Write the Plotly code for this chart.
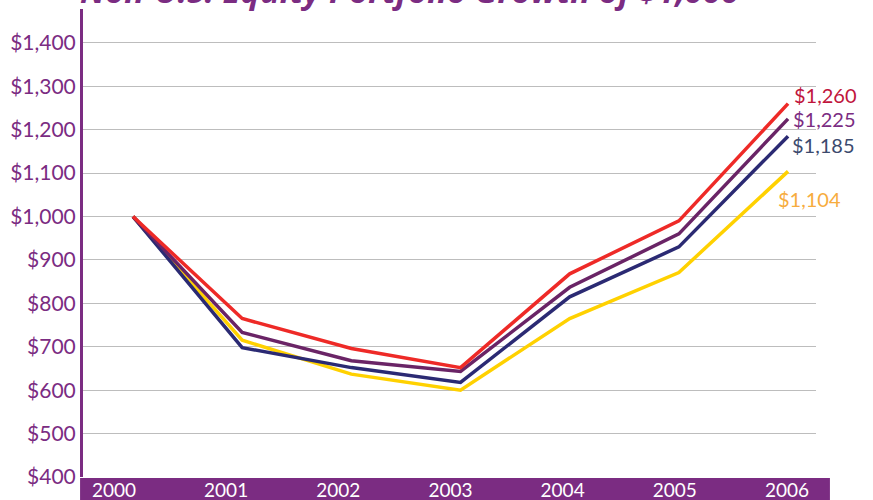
import plotly.graph_objects as go

years = [2000, 2001, 2002, 2003, 2004, 2005, 2006]
year_labels = ["2000", "2001", "2002", "2003", "2004", "2005", "2006"]

series_names = ["Red", "Purple", "Navy", "Yellow"]
red_values = [1000, 765, 696, 652, 868, 990, 1260]
purple_values = [1000, 733, 668, 643, 837, 960, 1225]
navy_values = [1000, 698, 652, 618, 815, 930, 1185]
yellow_values = [1000, 715, 637, 600, 765, 871, 1104]

end_labels = ["$1,260", "$1,225", "$1,185", "$1,104"]

PURPLE = "#7B2C82"
line_colors = ["#EE2A27", "#6A2466", "#2B2A73", "#FFD100"]
label_colors = ["#C0143C", "#7B2C82", "#3C4A6E", "#F7AC3E"]
label_shift = [(5, 9), (4, 0), (3, -9), (-11, -28)]

fig = go.Figure()
all_values = [yellow_values, navy_values, purple_values, red_values]
order_colors = [line_colors[3], line_colors[2], line_colors[1], line_colors[0]]
order_names = [series_names[3], series_names[2], series_names[1], series_names[0]]
for vals, c, n in zip(all_values, order_colors, order_names):
    fig.add_trace(go.Scatter(x=years, y=vals, mode="lines", name=n,
                             line=dict(color=c, width=3.5), showlegend=False))

# invisible trace on secondary x axis to carry year labels
fig.add_trace(go.Scatter(x=years, y=[None] * len(years), xaxis="x2",
                         mode="lines", showlegend=False, hoverinfo="skip"))

final_values = [red_values[-1], purple_values[-1], navy_values[-1], yellow_values[-1]]
for txt, v, col, (dx, dy) in zip(end_labels, final_values, label_colors, label_shift):
    fig.add_annotation(x=years[-1], y=v, xref="x", yref="y", text=txt,
                       showarrow=False, xanchor="left", yanchor="middle",
                       xshift=dx, yshift=dy, borderpad=0,
                       font=dict(family="Lato", size=20, color=col))

fig.add_annotation(x=-0.005, y=0.9885, xref="paper", yref="paper",
                   text="<b><i>Non-U.S. Equity Portfolio Growth of $1,000</i></b>",
                   showarrow=False, xanchor="left", yanchor="bottom", borderpad=0,
                   font=dict(family="Open Sans", size=33, color=PURPLE))

# purple band at bottom
fig.add_shape(type="rect", xref="paper", yref="paper",
              x0=-0.004, x1=1.019, y0=-0.06, y1=-0.002,
              fillcolor=PURPLE, line=dict(width=0), layer="below")

fig.update_layout(
    width=873, height=500,
    margin=dict(l=83, r=57, t=9, b=23, autoexpand=False),
    plot_bgcolor="white", paper_bgcolor="white",
    xaxis=dict(range=[1999.542, 2006.256], showgrid=False, showticklabels=False,
               zeroline=False, showline=False, ticks=""),
    xaxis2=dict(range=[1999.724, 2006.259], overlaying="x", side="bottom",
                tickvals=years, ticktext=year_labels, showgrid=False,
                zeroline=False, showline=False, ticks="", ticklabelstandoff=0,
                tickfont=dict(family="Lato", size=19, color="white"),
                anchor="y"),
    yaxis=dict(range=[400, 1478], tick0=400, dtick=100, tickprefix="$",
               tickformat=",d", showgrid=True, gridcolor="#BDBDBD", gridwidth=1,
               zeroline=False, showline=True, linecolor=PURPLE, linewidth=3,
               ticks="", ticklabelstandoff=0,
               tickfont=dict(family="Lato", size=21, color=PURPLE)),
)

fig.write_html("out.html", config={"displayModeBar": False},
               post_script="document.body.style.margin='0';")
